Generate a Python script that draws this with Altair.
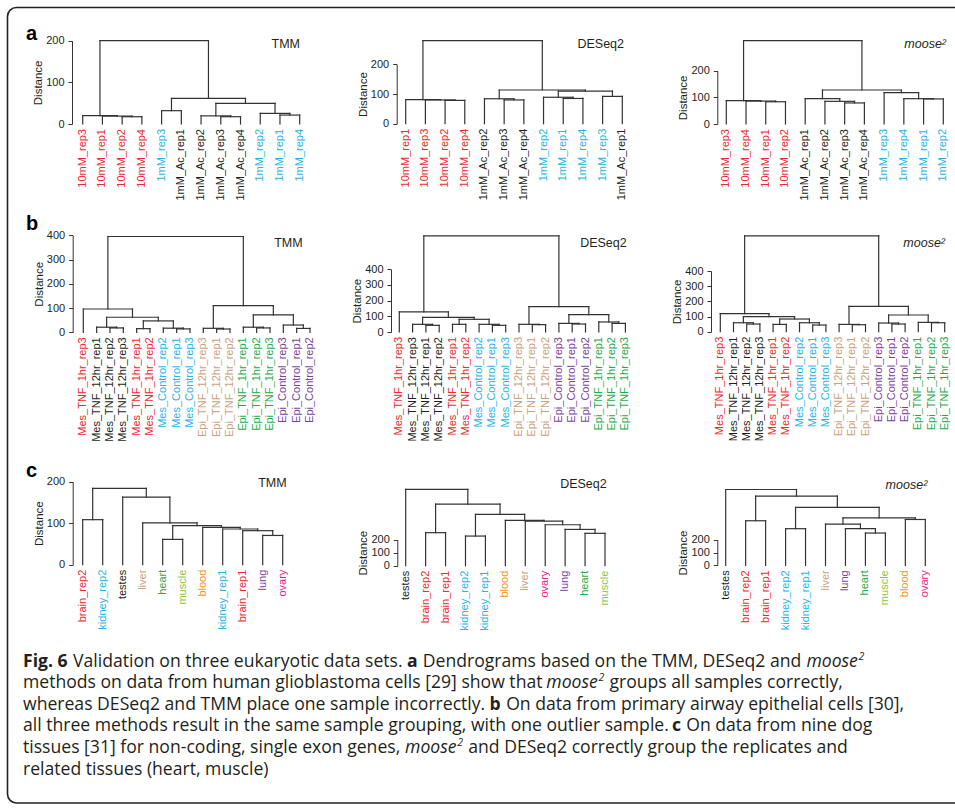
import altair as alt
import pandas as pd

# ---------------- data ----------------
COLORS = {
    "10mM": "#ee2a2e", "1mM": "#27b3ea", "1mM_Ac": "#231f20",
    "Mes_TNF_1hr": "#ee2a2e", "Mes_TNF_12hr": "#231f20", "Mes_Control": "#27b3ea",
    "Epi_TNF_12hr": "#c9a27c", "Epi_TNF_1hr": "#1faa4b", "Epi_Control": "#7a3f9e",
    "brain": "#ee2a2e", "kidney": "#27b3ea", "testes": "#231f20", "liver": "#c9a27c",
    "heart": "#1faa4b", "muscle": "#8cc63f", "blood": "#f7941d", "lung": "#7a3f9e",
    "ovary": "#ec1c8c",
}

# panel a : human glioblastoma cells
A_TMM_LEAVES = ["10mM_rep3", "10mM_rep1", "10mM_rep2", "10mM_rep4", "1mM_rep3", "1mM_Ac_rep1",
                "1mM_Ac_rep2", "1mM_Ac_rep3", "1mM_Ac_rep4", "1mM_rep2", "1mM_rep1", "1mM_rep4"]
A_TMM_MERGES = [("10mM_rep2", "10mM_rep4"), ("10mM_rep1", 0), ("10mM_rep3", 1),
                ("1mM_rep3", "1mM_Ac_rep1"), ("1mM_Ac_rep3", "1mM_Ac_rep4"), ("1mM_Ac_rep2", 4),
                ("1mM_rep1", "1mM_rep4"), ("1mM_rep2", 6), (5, 7), (3, 8), (2, 9)]
A_TMM_HEIGHTS = [17.5, 19, 20, 32, 17.5, 19.5, 21.5, 25.5, 49.5, 61.5, 200]

A_DES_LEAVES = ["10mM_rep1", "10mM_rep3", "10mM_rep2", "10mM_rep4", "1mM_Ac_rep2", "1mM_Ac_rep3",
                "1mM_Ac_rep4", "1mM_rep2", "1mM_rep1", "1mM_rep4", "1mM_rep3", "1mM_Ac_rep1"]
A_DES_MERGES = [("10mM_rep2", "10mM_rep4"), ("10mM_rep3", 0), ("10mM_rep1", 1),
                ("1mM_Ac_rep3", "1mM_Ac_rep4"), ("1mM_Ac_rep2", 3), ("1mM_rep1", "1mM_rep4"),
                ("1mM_rep2", 5), ("1mM_rep3", "1mM_Ac_rep1"), (6, 7), (4, 8), (2, 9)]
A_DES_HEIGHTS = [78.5, 80, 81, 80, 84, 85, 89, 92, 110, 113.5, 280]

A_MOO_LEAVES = ["10mM_rep3", "10mM_rep4", "10mM_rep1", "10mM_rep2", "1mM_Ac_rep1", "1mM_Ac_rep2",
                "1mM_Ac_rep3", "1mM_Ac_rep4", "1mM_rep3", "1mM_rep4", "1mM_rep1", "1mM_rep2"]
A_MOO_MERGES = [("10mM_rep1", "10mM_rep2"), ("10mM_rep4", 0), ("10mM_rep3", 1),
                ("1mM_Ac_rep3", "1mM_Ac_rep4"), ("1mM_Ac_rep2", 3), ("1mM_Ac_rep1", 4),
                ("1mM_rep1", "1mM_rep2"), ("1mM_rep4", 6), ("1mM_rep3", 7), (5, 8), (2, 9)]
A_MOO_HEIGHTS = [83.5, 86, 87.5, 79, 85, 95, 94, 95, 117.5, 127.5, 312.5]

# panel b : primary airway epithelial cells
B_TMM_LEAVES = ["Mes_TNF_1hr_rep3", "Mes_TNF_12hr_rep1", "Mes_TNF_12hr_rep2", "Mes_TNF_12hr_rep3",
                "Mes_TNF_1hr_rep1", "Mes_TNF_1hr_rep2", "Mes_Control_rep2", "Mes_Control_rep1",
                "Mes_Control_rep3", "Epi_TNF_12hr_rep3", "Epi_TNF_12hr_rep1", "Epi_TNF_12hr_rep2",
                "Epi_TNF_1hr_rep1", "Epi_TNF_1hr_rep2", "Epi_TNF_1hr_rep3", "Epi_Control_rep3",
                "Epi_Control_rep1", "Epi_Control_rep2"]
B_TMM_MERGES = [("Mes_TNF_12hr_rep2", "Mes_TNF_12hr_rep3"), ("Mes_TNF_12hr_rep1", 0),
                ("Mes_TNF_1hr_rep1", "Mes_TNF_1hr_rep2"), ("Mes_Control_rep1", "Mes_Control_rep3"),
                ("Mes_Control_rep2", 3), (2, 4), (1, 5), ("Mes_TNF_1hr_rep3", 6),
                ("Epi_TNF_12hr_rep1", "Epi_TNF_12hr_rep2"), ("Epi_TNF_12hr_rep3", 8),
                ("Epi_TNF_1hr_rep2", "Epi_TNF_1hr_rep3"), ("Epi_TNF_1hr_rep1", 10),
                ("Epi_Control_rep1", "Epi_Control_rep2"), ("Epi_Control_rep3", 12),
                (11, 13), (9, 14), (7, 15)]
B_TMM_HEIGHTS = [18, 21, 15, 14, 17, 47, 62, 96, 13.5, 16.5, 18, 21, 16, 30, 71.5, 110, 395]

B_DES_LEAVES = ["Mes_TNF_1hr_rep3", "Mes_TNF_12hr_rep3", "Mes_TNF_12hr_rep1", "Mes_TNF_12hr_rep2",
                "Mes_TNF_1hr_rep1", "Mes_TNF_1hr_rep2", "Mes_Control_rep2", "Mes_Control_rep1",
                "Mes_Control_rep3", "Epi_TNF_12hr_rep3", "Epi_TNF_12hr_rep1", "Epi_TNF_12hr_rep2",
                "Epi_Control_rep3", "Epi_Control_rep1", "Epi_Control_rep2", "Epi_TNF_1hr_rep1",
                "Epi_TNF_1hr_rep2", "Epi_TNF_1hr_rep3"]
B_DES_MERGES = [("Mes_TNF_12hr_rep1", "Mes_TNF_12hr_rep2"), ("Mes_TNF_12hr_rep3", 0),
                ("Mes_TNF_1hr_rep1", "Mes_TNF_1hr_rep2"), ("Mes_Control_rep1", "Mes_Control_rep3"),
                ("Mes_Control_rep2", 3), (2, 4), (1, 5), ("Mes_TNF_1hr_rep3", 6),
                ("Epi_TNF_12hr_rep1", "Epi_TNF_12hr_rep2"), ("Epi_TNF_12hr_rep3", 8),
                ("Epi_Control_rep1", "Epi_Control_rep2"), ("Epi_Control_rep3", 10),
                ("Epi_TNF_1hr_rep2", "Epi_TNF_1hr_rep3"), ("Epi_TNF_1hr_rep1", 12),
                (11, 13), (9, 14), (7, 15)]
B_DES_HEIGHTS = [42.5, 49, 49, 42.5, 49, 81, 93.5, 128, 47, 49, 51, 55, 55, 64, 110.5, 162, 613]

B_MOO_LEAVES = ["Mes_TNF_1hr_rep3", "Mes_TNF_12hr_rep1", "Mes_TNF_12hr_rep2", "Mes_TNF_12hr_rep3",
                "Mes_TNF_1hr_rep1", "Mes_TNF_1hr_rep2", "Mes_Control_rep2", "Mes_Control_rep1",
                "Mes_Control_rep3", "Epi_TNF_12hr_rep3", "Epi_TNF_12hr_rep1", "Epi_TNF_12hr_rep2",
                "Epi_Control_rep3", "Epi_Control_rep1", "Epi_Control_rep2", "Epi_TNF_1hr_rep1",
                "Epi_TNF_1hr_rep2", "Epi_TNF_1hr_rep3"]
B_MOO_MERGES = [("Mes_TNF_12hr_rep2", "Mes_TNF_12hr_rep3"), ("Mes_TNF_12hr_rep1", 0),
                ("Mes_TNF_1hr_rep1", "Mes_TNF_1hr_rep2"), ("Mes_Control_rep1", "Mes_Control_rep3"),
                ("Mes_Control_rep2", 3), (2, 4), (1, 5), ("Mes_TNF_1hr_rep3", 6),
                ("Epi_TNF_12hr_rep1", "Epi_TNF_12hr_rep2"), ("Epi_TNF_12hr_rep3", 8),
                ("Epi_Control_rep1", "Epi_Control_rep2"), ("Epi_Control_rep3", 10),
                ("Epi_TNF_1hr_rep2", "Epi_TNF_1hr_rep3"), ("Epi_TNF_1hr_rep1", 12),
                (11, 13), (9, 14), (7, 15)]
B_MOO_HEIGHTS = [50.5, 59, 48, 44, 59, 83.5, 99, 118.5, 46, 48, 50.5, 57, 59, 61.5, 110, 167, 631]

# panel c : nine dog tissues
C_TMM_LEAVES = ["brain_rep2", "kidney_rep2", "testes", "liver", "heart", "muscle", "blood",
                "kidney_rep1", "brain_rep1", "lung", "ovary"]
C_TMM_MERGES = [("brain_rep2", "kidney_rep2"), ("heart", "muscle"), ("lung", "ovary"),
                ("brain_rep1", 2), ("kidney_rep1", 3), ("blood", 4), (1, 5), ("liver", 6),
                ("testes", 7), (0, 8)]
C_TMM_HEIGHTS = [108.5, 61, 70.5, 82, 86, 90, 94, 101, 163, 184]

C_DES_LEAVES = ["testes", "brain_rep2", "brain_rep1", "kidney_rep2", "kidney_rep1", "blood",
                "liver", "ovary", "lung", "heart", "muscle"]
C_DES_MERGES = [("brain_rep2", "brain_rep1"), ("kidney_rep2", "kidney_rep1"), ("heart", "muscle"),
                ("lung", 2), ("ovary", 3), ("liver", 4), ("blood", 5), (1, 6), (0, 7), ("testes", 8)]
C_DES_HEIGHTS = [254, 228, 249, 279, 315, 343.5, 349, 395, 474, 587]

C_MOO_LEAVES = ["testes", "brain_rep2", "brain_rep1", "kidney_rep2", "kidney_rep1", "liver",
                "lung", "heart", "muscle", "blood", "ovary"]
C_MOO_MERGES = [("brain_rep2", "brain_rep1"), ("kidney_rep2", "kidney_rep1"), ("heart", "muscle"),
                ("lung", 2), ("liver", 3), ("blood", "ovary"), (4, 5), (1, 6), (0, 7), ("testes", 8)]
C_MOO_HEIGHTS = [348, 286, 252, 286, 322, 358, 371, 452, 540, 592]

METHODS = ["TMM", "DESeq2", "moose²"]
PANEL_LETTERS = ["a", "b", "c"]

CAPTION_LINES = [
    [("Fig. 6", "b"), (" Validation on three eukaryotic data sets. ", "n"), ("a", "b"),
     (" Dendrograms based on the TMM, DESeq2 and ", "n"), ("moose", "i"), ("2", "s")],
    [("methods on data from human glioblastoma cells [29] show that ", "n"), ("moose", "i"),
     ("2", "s"), (" groups all samples correctly,", "n")],
    [("whereas DESeq2 and TMM place one sample incorrectly. ", "n"), ("b", "b"),
     (" On data from primary airway epithelial cells [30],", "n")],
    [("all three methods result in the same sample grouping, with one outlier sample. ", "n"),
     ("c", "b"), (" On data from nine dog", "n")],
    [("tissues [31] for non-coding, single exon genes, ", "n"), ("moose", "i"), ("2", "s"),
     (" and DESeq2 correctly group the replicates and", "n")],
    [("related tissues (heart, muscle)", "n")],
]

# ---------------- layout (pixels) ----------------
LINE = "#333333"
TXT = "#231f20"
FONT = "Liberation Sans"

LAYOUT = [
    # row a
    dict(axis=72.0, leaf=(82.7, 299.7), y=(124.0, 40.7), top=200, step=100, tx=300.0, ty=48.3),
    dict(axis=396.7, leaf=(405.7, 622.3), y=(123.7, 64.3), top=200, step=100, tx=624.0, ty=48.3),
    dict(axis=717.3, leaf=(726.3, 943.3), y=(124.0, 70.7), top=200, step=100, tx=946.0, ty=48.3),
    # row b
    dict(axis=72.7, leaf=(83.3, 310.0), y=(332.3, 235.3), top=400, step=100, tx=302.7, ty=246.7),
    dict(axis=391.0, leaf=(399.3, 625.4), y=(332.0, 269.3), top=400, step=100, tx=626.7, ty=246.7),
    dict(axis=711.0, leaf=(720.3, 944.7), y=(331.7, 271.0), top=400, step=100, tx=945.0, ty=246.7),
    # row c
    dict(axis=72.7, leaf=(82.7, 282.7), y=(564.7, 481.7), top=200, step=100, tx=286.7, ty=487.3),
    dict(axis=397.3, leaf=(405.7, 605.0), y=(565.7, 539.7), top=200, step=100, tx=606.7, ty=488.3),
    dict(axis=717.3, leaf=(725.7, 925.3), y=(565.3, 539.7), top=200, step=100, tx=927.3, ty=489.0),
]
LETTER_POS = [(26.0, 39.5), (26.0, 229.5), (26.0, 476.5)]

PANELS = [
    (A_TMM_LEAVES, A_TMM_MERGES, A_TMM_HEIGHTS), (A_DES_LEAVES, A_DES_MERGES, A_DES_HEIGHTS),
    (A_MOO_LEAVES, A_MOO_MERGES, A_MOO_HEIGHTS), (B_TMM_LEAVES, B_TMM_MERGES, B_TMM_HEIGHTS),
    (B_DES_LEAVES, B_DES_MERGES, B_DES_HEIGHTS), (B_MOO_LEAVES, B_MOO_MERGES, B_MOO_HEIGHTS),
    (C_TMM_LEAVES, C_TMM_MERGES, C_TMM_HEIGHTS), (C_DES_LEAVES, C_DES_MERGES, C_DES_HEIGHTS),
    (C_MOO_LEAVES, C_MOO_MERGES, C_MOO_HEIGHTS),
]


def leaf_color(name):
    key = name.rsplit("_rep", 1)[0]
    return COLORS.get(key, TXT)


def tree_segments(leaves, merges, heights):
    pos = {name: i + 1 for i, name in enumerate(leaves)}
    nx, nh, segs = [], [], []

    def get(ref):
        if isinstance(ref, str):
            return pos[ref], 0.0
        return nx[ref], nh[ref]

    for (a, b), h in zip(merges, heights):
        xa, ha = get(a)
        xb, hb = get(b)
        segs.append(dict(x=xa, x2=xa, y=ha, y2=h))
        segs.append(dict(x=xb, x2=xb, y=hb, y2=h))
        segs.append(dict(x=xa, x2=xb, y=h, y2=h))
        nx.append((xa + xb) / 2.0)
        nh.append(h)
    return pd.DataFrame(segs)


def panel(leaves, merges, heights, L):
    n = len(leaves)
    xs = alt.Scale(domain=[1, n], range=[L["leaf"][0], L["leaf"][1]], nice=False, zero=False)
    ys = alt.Scale(domain=[0, L["top"]], range=[L["y"][0], L["y"][1]], nice=False, zero=False)
    ax = alt.Axis(orient="left", offset=-L["axis"], values=list(range(0, L["top"] + 1, L["step"])),
                  grid=False, domainColor=LINE, domainWidth=1, tickColor=LINE, tickWidth=1,
                  tickSize=4, labelPadding=4, labelFont=FONT, labelFontSize=11, labelColor=TXT,
                  title="Distance", titleFont=FONT, titleFontSize=11.5, titleFontWeight="normal",
                  titleColor=TXT, titleX=-30.5, titleBaseline="alphabetic", titleAngle=270)
    seg = tree_segments(leaves, merges, heights)
    lines = alt.Chart(seg).mark_rule(color=LINE, strokeWidth=1.2, strokeCap="square").encode(
        x=alt.X("x:Q", scale=xs, axis=None), x2="x2:Q",
        y=alt.Y("y:Q", scale=ys, axis=ax), y2="y2:Q")
    lab = pd.DataFrame({"label": leaves, "pos": list(range(1, n + 1)), "zero": [0] * n,
                        "color": [leaf_color(s) for s in leaves]})
    labels = alt.Chart(lab).mark_text(angle=270, align="right", baseline="middle", dx=-5,
                                      font=FONT, fontSize=11).encode(
        x=alt.X("pos:Q", scale=xs, axis=None),
        y=alt.Y("zero:Q", scale=ys, axis=ax),
        text="label:N", color=alt.Color("color:N", scale=None))
    return alt.layer(lines, labels)


def pix_text(df, **mk):
    return alt.Chart(df).mark_text(**mk).encode(
        x=alt.X("x:Q", scale=None), y=alt.Y("y:Q", scale=None), text="t:N")


layers = [panel(*PANELS[i], LAYOUT[i]) for i in range(9)]

# method titles
tn, ti = [], []
for i, L in enumerate(LAYOUT):
    m = METHODS[i % 3]
    (ti if m.startswith("moose") else tn).append(dict(x=L["tx"], y=L["ty"], t=m))
layers.append(pix_text(pd.DataFrame(tn), align="right", baseline="alphabetic", font=FONT,
                       fontSize=12.5, color=TXT))
layers.append(pix_text(pd.DataFrame(ti), align="right", baseline="alphabetic", font=FONT,
                       fontSize=12.5, fontStyle="italic", color=TXT))
# panel letters
layers.append(pix_text(pd.DataFrame([dict(x=p[0], y=p[1], t=t) for p, t in zip(LETTER_POS, PANEL_LETTERS)]),
                       align="left", baseline="alphabetic", font=FONT, fontSize=20,
                       fontWeight="bold", color="#000000"))

# caption (Open Sans, segments chained with approximate advance widths)
_W = {' ': 532, 'a': 1139, 'b': 1255, 'c': 975, 'd': 1255, 'e': 1149, 'f': 694, 'g': 1122,
      'h': 1257, 'i': 518, 'j': 518, 'k': 1075, 'l': 518, 'm': 1905, 'n': 1257, 'o': 1237,
      'p': 1255, 'q': 1255, 'r': 836, 's': 977, 't': 723, 'u': 1257, 'v': 1026, 'w': 1593,
      'x': 1073, 'y': 1028, 'z': 977, 'A': 1296, 'B': 1327, 'C': 1292, 'D': 1493, 'E': 1139,
      'F': 1057, 'G': 1491, 'H': 1511, 'I': 571, 'M': 1849, 'N': 1544, 'O': 1595, 'P': 1233,
      'R': 1266, 'S': 1124, 'T': 1143, 'U': 1520, 'V': 1221, 'W': 1886, '.': 545, ',': 545,
      '[': 664, ']': 664, '(': 606, ')': 606, '-': 659}
CAP_FONT = "Open Sans"
CAP_SIZE = 17.6
CAP_SUP = 10.5
CAP_X, CAP_Y0, CAP_DY = 23.0, 666.5, 21.6
FACT = {"n": 0.993, "b": 1.05, "i": 0.9, "s": 1.0}
GAP = {"n": 2.2, "b": 0.8, "i": 1.8, "s": 0.5}
SPACE = 532 / 2048.0 * CAP_SIZE


def tw(s):
    return sum(_W.get(ch, 1171) for ch in s) / 2048.0


cap = {"n": [], "b": [], "i": [], "s": []}
for li, line in enumerate(CAPTION_LINES):
    x = CAP_X
    yb = CAP_Y0 + li * CAP_DY
    for txt, st in line:
        size = CAP_SUP if st == "s" else CAP_SIZE
        core = txt.strip(" ")
        lead = len(txt) - len(txt.lstrip(" "))
        trail = len(txt) - len(txt.rstrip(" "))
        x += lead * SPACE
        cap[st].append(dict(x=x, y=yb - (7.0 if st == "s" else 0.0), t=core))
        x += tw(core) * FACT[st] * size + GAP[st]
        x += trail * SPACE

layers.append(pix_text(pd.DataFrame(cap["n"]), align="left", baseline="alphabetic",
                       font=CAP_FONT, fontSize=CAP_SIZE, color=TXT))
layers.append(pix_text(pd.DataFrame(cap["b"]), align="left", baseline="alphabetic",
                       font=CAP_FONT, fontSize=CAP_SIZE, fontWeight="bold", color=TXT))
layers.append(pix_text(pd.DataFrame(cap["i"]), align="left", baseline="alphabetic",
                       font=CAP_FONT, fontSize=CAP_SIZE, fontStyle="italic", color=TXT))
layers.append(pix_text(pd.DataFrame(cap["s"]), align="left", baseline="alphabetic",
                       font=CAP_FONT, fontSize=CAP_SUP, fontStyle="italic", color=TXT))

# frame
frame = alt.Chart(pd.DataFrame({"k": [0]})).mark_rect(
    fillOpacity=0, stroke="#222222", strokeWidth=1.6, cornerRadius=9).encode(
    x=alt.value(7.5), x2=alt.value(990), y=alt.value(7.5), y2=alt.value(803))
layers.append(frame)

chart = alt.layer(*layers).resolve_scale(x="independent", y="independent").properties(
    width=955, height=810, padding=0, autosize=alt.AutoSizeParams(type="none"),
    background="#ffffff").configure_view(stroke=None)

chart.save("out.html", embed_options={"renderer": "svg", "actions": False})
